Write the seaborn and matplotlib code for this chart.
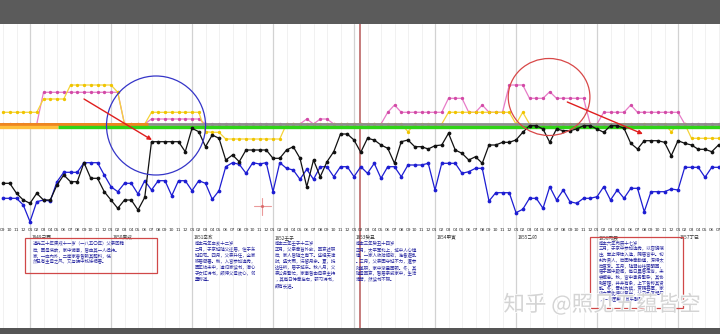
import matplotlib
matplotlib.use("Agg")
import matplotlib.pyplot as plt
import matplotlib.patheffects as pe
from matplotlib.patches import Ellipse, Rectangle
import pandas as pd
import seaborn as sns

# ---------------- data ----------------
month_index = list(range(-4, 103))   # 0 = Jan of 1849
month_names = ["01", "02", "03", "04", "05", "06", "07", "08", "09", "10", "11", "12"]
year_labels = ["1849己酉", "1850庚戌", "1851辛亥", "1852壬子", "1853癸丑",
               "1854甲寅", "1855乙卯", "1856丙辰", "1857丁巳"]
year_starts = [0, 12, 24, 36, 48, 60, 72, 84, 96]

black_values = [46.7, 46.7, 36.7, 30,
                26.7, 36.7, 30, 30, 45, 55, 48.3, 48.3, 67.3, 51.7,
                51.7, 38.3, 30, 21.7, 30, 30, 20, 32.7, 88.3, 88.3,
                88.3, 88.3, 88.3, 78.3, 101.7, 98.3, 83.3, 95, 91.7, 70,
                75, 68.3, 80, 80, 80, 80, 71.7, 71.7, 80, 83.3,
                71.7, 43.3, 70, 53.3, 68.3, 78.3, 96, 96, 90, 77.7,
                91.7, 90, 85, 81.7, 66.7, 88.3, 90, 83.3, 83.3, 81,
                84.3, 85, 96.7, 80, 76.7, 70, 73.3, 66.7, 85, 85,
                87.7, 87.7, 90, 97.7, 104.3, 104.3, 101, 87.7, 101, 99.3,
                99.3, 101, 104.3, 104.3, 101, 97.7, 104.3, 104.3, 101.7, 86.7,
                81, 89.3, 89.3, 89.3, 87.7, 74.3, 89.3, 86.7, 85, 80.7,
                80.7, 78.3, 85]

blue_values = [31.7, 31.7, 31.7, 25,
               8.3, 28.3, 30, 29, 48.3, 57.7, 57.7, 57.7, 67.3, 67.3,
               67.3, 55, 43.3, 38.3, 46.7, 46.7, 36, 49.3, 40, 49.3,
               49.3, 34.3, 49.3, 49.3, 39.3, 49.3, 46.7, 30.7, 39.3, 63.3,
               67.3, 65.7, 56.7, 67.3, 66, 67.3, 38.3, 67.3, 61.7, 60,
               50.7, 60.7, 50.7, 63.3, 63.3, 53.3, 63.3, 63.3, 53.3, 63.3,
               56.7, 66.7, 51.7, 63.3, 63.3, 53.3, 65, 65, 65, 66.7,
               40, 66.7, 66.7, 66.7, 56.7, 58.3, 61.7, 61.7, 29, 37.3,
               37.3, 37.3, 17.3, 20.7, 31.7, 31.7, 21.7, 43.3, 30, 40,
               28.3, 26.7, 31.7, 31.7, 33.3, 43.3, 30, 40, 31.7, 41.7,
               41.7, 18.3, 38.3, 38.3, 38.3, 41, 40, 62.7, 62.7, 62.7,
               52.7, 62.7, 62.7]

yellow_values = [117.7, 117.7, 117.7, 117.7,
                 117.7, 117.7, 131, 131, 131, 131, 145, 145, 145, 145,
                 145, 145, 145, 137.7, 106, 106, 106, 106, 117.7, 117.7,
                 117.7, 117.7, 117.7, 117.7, 117.7, 117.7, 98.3, 97.7, 97.7, 91,
                 91, 91, 91, 91, 91, 91, 91, 91, 106, 106,
                 106, 106, 106, 106, 106, 106, 106, 106, 106, 106,
                 106, 106, 106, 106, 106, 106, 98.3, 106, 106, 106,
                 106, 106, 117.7, 117.7, 117.7, 117.7, 117.7, 117.7, 117.7, 117.7,
                 117.7, 117.7, 106, 117.7, 106, 106, 106, 106, 106, 106,
                 106, 106, 106, 106, 106, 106, 106, 106, 106, 106,
                 106, 106, 106, 106, 106, 98.3, 106, 106, 91.7, 91.7,
                 91.7, 91.7, 91.7]

pink_values = [106, 106, 106, 106,
               106, 106, 137.7, 137.7, 137.7, 137.7, 137.7, 137.7, 137.7, 137.7,
               137.7, 137.7, 137.7, 137.7, 106, 106, 106, 106, 111, 111,
               111, 111, 111, 111, 111, 111, 106, 106, 106, 106,
               106, 106, 106, 106, 106, 106, 106, 106, 106, 106,
               106, 111, 106, 111, 111, 106, 106, 106, 106, 106,
               106, 106, 106, 117.7, 125, 117.7, 117.7, 117.7, 117.7, 117.7,
               117.7, 117.7, 131.7, 131.7, 131.7, 117.7, 117.7, 125, 117.7, 117.7,
               117.7, 145, 145, 145, 131.7, 131.7, 131.7, 138.3, 131.7, 131.7,
               131.7, 131.7, 131.7, 106, 106, 117.7, 117.7, 117.7, 117.7, 125,
               117.7, 117.7, 117.7, 117.7, 117.7, 117.7, 117.7, 106, 106, 106,
               106, 106, 106]

band_colors = ["#8e8e8e", "#f0861e", "#ffbf3c", "#2fd416"]
band_start = [-5, -5, -5, 4.15]
band_end = [103, 17.5, 4.15, 103]
band_level = [106.3, 106.3, 102.7, 102.7]
band_width = [2.0, 2.1, 2.4, 2.4]

box1_lines = ["道光三十年庚戌十一岁（一八五〇年）父亲回籍",
              "后，因母病故，家中诸事，皆由其一人操持。",
              "家，一应内外，二房家眷皆赖其照料，恍",
              "然已有主母之风，又与族中姊妹相善。"]
box2_lines = ["咸丰元年辛亥十二岁",
              "二月，于京城随父迁居，住于东",
              "城旧宅。四月，父亲升任，全家",
              "移居衙署。秋，入宫参加选秀，",
              "因年幼未中，遂归家读书，潜心",
              "于女红诗书，颇得父母欢心，邻",
              "里称道。"]
box3_lines = ["咸丰二年壬子十三岁",
              "正月，父亲奉旨外放，回京述职",
              "后，家人皆随之南下。途经天津",
              "时，遇大雨，滞留月余。夏，抵",
              "达任所，居于城东。秋八月，父",
              "亲公务繁忙，家事皆由母亲主持",
              "，其每日侍奉左右，研习诗书，",
              "颇有长进。"]
box4_lines = ["咸丰三年癸丑十四岁",
              "正月，太平军北上，城中人心惶",
              "惶，一家人收拾细软，准备避乱",
              "。三月，父亲因守城不力，遭参",
              "劾革职，家中渐显困顿。冬，其",
              "随母回京，暂居亲戚家中，生活",
              "清苦，然读书不辍。"]
box5_lines = ["咸丰六年丙辰十七岁",
              "三月，于京中参加选秀，以容貌端",
              "庄、举止得体入选，赐居宫中。初",
              "封为贵人，后因侍奉勤谨，深得太",
              "后喜爱。五月，随驾前往圆明园，",
              "居于园中殿阁，每日晨昏定省，未",
              "尝懈怠。秋，宫中事务繁杂，其协",
              "助管理，井井有条，上下皆称其贤",
              "能。冬，晋封为嫔，赏赐甚厚，家",
              "中亦因此得以复兴，父亲亦复起用",
              "，一家团聚，其乐融融。"]
box_text_x = [0.45, 24.4, 36.3, 48.3, 84.3]
box_linespacing = [1.22, 1.22, 1.22, 1.22, 1.12]
watermark = "知乎 @照见五蕴皆空"

# ---------------- style ----------------
sns.set_theme(style="white")
plt.rcParams["font.family"] = ["Noto Sans CJK SC", "DejaVu Sans"]

W, H = 720, 334
fig = plt.figure(figsize=(W / 100, H / 100), dpi=100)
fig.patch.set_facecolor("white")
fig.add_artist(Rectangle((0, 1 - 24 / H), 1, 24 / H, transform=fig.transFigure,
                         facecolor="#5b5b5b", edgecolor="none"))
fig.add_artist(Rectangle((0, 0), 1, 6 / H, transform=fig.transFigure,
                         facecolor="#555555", edgecolor="none"))

ax = fig.add_axes([0, 6 / H, 1, 304 / H])
ax.set_xlim(-30 / 6.75, 690 / 6.75)
ax.set_ylim(-98, 206)
ax.axis("off")

# grid lines
for t in range(-4, 103, 2):
    if t % 12 != 0:
        ax.axvline(t, color="#efefef", lw=0.6, zorder=0)
for t in year_starts:
    ax.axvline(t, color="#d2d2d2", lw=0.9, zorder=0.5)
ax.axvline(48.9, color="#c27272", lw=1.3, zorder=0.6)

# upper series
sns.lineplot(x=month_index, y=pink_values, ax=ax, color="#e77cc8", lw=0.9,
             marker="o", markersize=2.4, markerfacecolor="#d24aa6",
             markeredgewidth=0, zorder=2)
sns.lineplot(x=month_index, y=yellow_values, ax=ax, color="#f5d43a", lw=0.9,
             marker="o", markersize=2.4, markerfacecolor="#f0c400",
             markeredgewidth=0, zorder=2.2)

# bands
for c, s, e, lv, w in zip(band_colors, band_start, band_end, band_level, band_width):
    sns.lineplot(x=[s, e], y=[lv, lv], ax=ax, color=c, lw=w, zorder=3)
for line in ax.get_lines()[-4:]:
    line.set_solid_capstyle("butt")

# main series
sns.lineplot(x=month_index, y=blue_values, ax=ax, color="#1d1dd2", lw=0.9,
             marker="o", markersize=2.7, markeredgewidth=0, zorder=4)
sns.lineplot(x=month_index, y=black_values, ax=ax, color="#111111", lw=0.9,
             marker="o", markersize=2.7, markeredgewidth=0, zorder=4.2)

# month and year labels
for t in range(-4, 103):
    ax.text(t, 0, month_names[t % 12], ha="center", va="center", fontsize=3.2,
            color="#333333", family=["DejaVu Sans"])
for t, lab in zip(year_starts, year_labels):
    ax.text(t + 0.2, -7.3, lab, ha="left", va="center", fontsize=3.4, color="#333333")

# annotation boxes
for x, lines, ls in zip(box_text_x, [box1_lines, box2_lines, box3_lines, box4_lines, box5_lines],
                        box_linespacing):
    ax.text(x, -11, "\n".join(lines), ha="left", va="top", fontsize=3.2,
            linespacing=ls, color="#2626a0")
ax.add_patch(Rectangle((-0.74, -43), 19.55, 35, fill=False, edgecolor="#d04848", lw=0.9, zorder=5))
ax.add_patch(Rectangle((82.96, -78), 13.78, 71, fill=False, edgecolor="#d04848", lw=0.9, zorder=5))

# circles and arrows
ax.add_patch(Ellipse((18.67, 104.5), 14.67, 99, fill=False, edgecolor="#3535c8", lw=0.9, zorder=6))
ax.add_patch(Ellipse((76.9, 133), 12.1, 77, fill=False, edgecolor="#d84848", lw=0.9, zorder=6))
for (x0, y0), (x1, y1) in [((8, 131), (18.07, 90)), ((79.6, 128), (90.8, 96))]:
    ax.annotate("", xy=(x1, y1), xytext=(x0, y0),
                arrowprops=dict(arrowstyle="-|>", color="#e01e1e", lw=1.0,
                                mutation_scale=6, shrinkA=0, shrinkB=0), zorder=6)

# cursor cross
cx, cy = 34.4, 24
ax.plot([cx - 1.26, cx + 1.26], [cy, cy], color="#eb9a9a", lw=0.8, zorder=6)
ax.plot([cx, cx], [cy - 8.5, cy + 8.5], color="#eb9a9a", lw=0.8, zorder=6)
ax.plot([cx], [cy], marker="o", ms=2.2, color="#d86a6a", mew=0, zorder=6)

# watermark
fig.text(602 / W, 1 - 305 / H, watermark, ha="center", va="center", fontsize=15.5,
         color="#d4d4d4",
         path_effects=[pe.withStroke(linewidth=1.2, foreground="#ffffff")])

fig.savefig("out.png", dpi=100)
